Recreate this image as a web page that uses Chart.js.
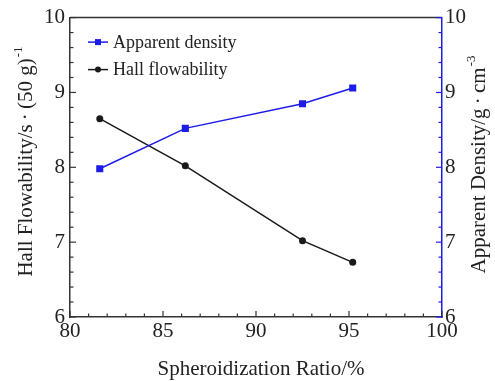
<!DOCTYPE html>
<html>
<head>
<meta charset="utf-8">
<script src="https://cdn.jsdelivr.net/npm/chart.js@4/dist/chart.umd.min.js"></script>
<style>
  html, body { margin: 0; padding: 0; background: #fff; }
</style>
</head>
<body>
<canvas id="grafico" width="495" height="381"></canvas>
<script>
// Taxa de esferoidização (%) de cada amostra
const razao = [81.6, 86.2, 92.5, 95.2];
// Densidade aparente (g/cm3) - eixo da direita
const densidade = [7.98, 8.52, 8.85, 9.06];
// Fluidez Hall (s/50 g) - eixo da esquerda
const fluidez = [8.65, 8.02, 7.02, 6.73];
// Rótulos dos eixos
const ticksX = [80, 85, 90, 95, 100];
const ticksY = [6, 7, 8, 9, 10];

const azul = '#1c1ce8';
const preto = '#1a1a1a';
const fonte = 'Liberation Serif';

// Desenha a moldura, os ticks internos, legenda e títulos dos eixos
const moldura = {
  id: 'moldura',
  afterDraw(chart) {
    const { ctx, chartArea: a, scales } = chart;
    ctx.save();

    // borda de cima
    ctx.strokeStyle = '#333';
    ctx.lineWidth = 1.5;
    ctx.beginPath();
    ctx.moveTo(a.left, a.top);
    ctx.lineTo(a.right, a.top);
    ctx.stroke();

    // ticks do eixo x (para dentro)
    ctx.lineWidth = 1.2;
    for (let v = scales.x.min; v <= scales.x.max; v += 1) {
      const px = scales.x.getPixelForValue(v);
      const len = v % 5 === 0 ? 6 : 3.5;
      ctx.beginPath();
      ctx.moveTo(px, a.bottom);
      ctx.lineTo(px, a.bottom - len);
      ctx.stroke();
    }

    // ticks dos eixos y
    for (let i = 0; i <= 20; i++) {
      const v = scales.y.min + i * 0.2;
      const len = i % 5 === 0 ? 6 : 3.5;
      const py = scales.y.getPixelForValue(v);
      ctx.strokeStyle = '#333';
      ctx.beginPath();
      ctx.moveTo(a.left, py);
      ctx.lineTo(a.left + len, py);
      ctx.stroke();
      const py2 = scales.y2.getPixelForValue(v);
      ctx.strokeStyle = azul;
      ctx.beginPath();
      ctx.moveTo(a.right, py2);
      ctx.lineTo(a.right - len, py2);
      ctx.stroke();
    }

    // legenda
    const itens = chart.data.datasets;
    itens.forEach((ds, i) => {
      const y = a.top + 24.5 + i * 27.5;
      const x0 = a.left + 18;
      ctx.strokeStyle = ds.borderColor;
      ctx.fillStyle = ds.borderColor;
      ctx.lineWidth = 1.5;
      ctx.beginPath();
      ctx.moveTo(x0, y);
      ctx.lineTo(x0 + 20, y);
      ctx.stroke();
      if (ds.pointStyle === 'rect') {
        ctx.fillRect(x0 + 7, y - 3, 6, 6);
      } else {
        ctx.beginPath();
        ctx.arc(x0 + 10, y, 3, 0, Math.PI * 2);
        ctx.fill();
      }
      ctx.fillStyle = '#222';
      ctx.font = '18px "' + fonte + '"';
      ctx.textBaseline = 'alphabetic';
      ctx.textAlign = 'left';
      ctx.fillText(ds.label, x0 + 25, y + 5.5);
    });

    // títulos dos eixos
    ctx.fillStyle = '#222';
    ctx.textBaseline = 'alphabetic';
    ctx.textAlign = 'left';
    function tituloComExpoente(texto, exp, cx, cy, rot) {
      ctx.save();
      ctx.translate(cx, cy);
      ctx.rotate(rot);
      ctx.font = '21px "' + fonte + '"';
      const w1 = ctx.measureText(texto).width;
      ctx.font = '13px "' + fonte + '"';
      const w2 = ctx.measureText(exp).width;
      const x = -(w1 + w2) / 2;
      ctx.font = '21px "' + fonte + '"';
      ctx.fillText(texto, x, 0);
      ctx.font = '13px "' + fonte + '"';
      ctx.fillText(exp, x + w1 + 1, -10);
      ctx.restore();
    }
    tituloComExpoente('Hall Flowability/s\u2009·\u2009(50 g)', '-1', 32, 162, -Math.PI / 2);
    tituloComExpoente('Apparent Density/g\u2009·\u2009cm', '-3', 485, 165, -Math.PI / 2);

    ctx.font = '21px "' + fonte + '"';
    ctx.textAlign = 'center';
    ctx.fillText('Spheroidization Ratio/%', (a.left + a.right) / 2 + 5, 375);

    ctx.restore();
  }
};

const fonteTicks = { family: fonte, size: 21 };

const ctx = document.getElementById('grafico').getContext('2d');
new Chart(ctx, {
  type: 'line',
  data: {
    datasets: [
      {
        label: 'Apparent density',
        data: razao.map((x, i) => ({ x: x, y: densidade[i] })),
        yAxisID: 'y2',
        borderColor: azul,
        backgroundColor: azul,
        borderWidth: 1.5,
        pointStyle: 'rect',
        pointRadius: 5,
        pointBorderWidth: 0,
        tension: 0
      },
      {
        label: 'Hall flowability',
        data: razao.map((x, i) => ({ x: x, y: fluidez[i] })),
        yAxisID: 'y',
        borderColor: preto,
        backgroundColor: preto,
        borderWidth: 1.5,
        pointStyle: 'circle',
        pointRadius: 3.5,
        pointBorderWidth: 0,
        tension: 0
      }
    ]
  },
  options: {
    responsive: false,
    animation: false,
    layout: { padding: { top: 17, left: 0, right: 0, bottom: 0 } },
    plugins: {
      legend: { display: false },
      tooltip: { enabled: false }
    },
    scales: {
      x: {
        type: 'linear',
        min: 80,
        max: 100,
        afterBuildTicks: s => { s.ticks = ticksX.map(v => ({ value: v })); },
        afterFit: s => { s.height = 64; },
        grid: { display: false, drawTicks: false },
        border: { color: '#333', width: 1.5 },
        ticks: { font: fonteTicks, color: '#222', padding: 2, maxRotation: 0 }
      },
      y: {
        position: 'left',
        min: 6,
        max: 10,
        afterBuildTicks: s => { s.ticks = ticksY.map(v => ({ value: v })); },
        afterFit: s => { s.width = 70; },
        grid: { display: false, drawTicks: false },
        border: { color: '#333', width: 1.5 },
        ticks: { font: fonteTicks, color: '#222', padding: 5 }
      },
      y2: {
        position: 'right',
        min: 6,
        max: 10,
        afterBuildTicks: s => { s.ticks = ticksY.map(v => ({ value: v })); },
        afterFit: s => { s.width = 53; },
        grid: { display: false, drawTicks: false },
        border: { color: azul, width: 1.5 },
        ticks: { font: fonteTicks, color: '#222', padding: 3 }
      }
    }
  },
  plugins: [moldura]
});
</script>
</body>
</html>
